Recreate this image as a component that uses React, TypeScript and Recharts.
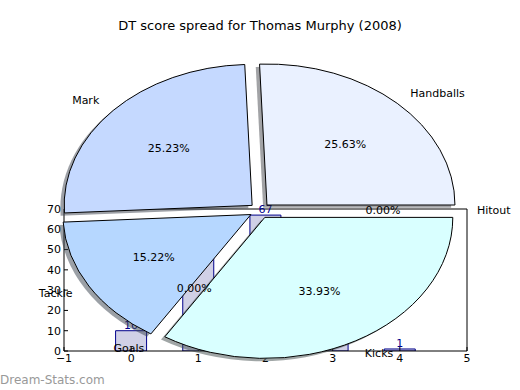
import React from 'react';
import { ComposedChart, Bar, XAxis, YAxis, LabelList, PieChart, Pie, Cell } from 'recharts';

const TITLE = 'DT score spread for Thomas Murphy (2008)';
const WATERMARK = 'Dream-Stats.com';

const barPositions = [0, 1, 2, 3, 4];
const barValues = [10, 55, 67, 30, 1];
const xTicks = [-1, 0, 1, 2, 3, 4, 5];
const yTicks = [0, 10, 20, 30, 40, 50, 60, 70];

const sliceNames = ['Handballs', 'Mark', 'Tackle', 'Goals', 'Kicks', 'Hitout'];
const sliceValues = [25.63, 25.23, 15.22, 0, 33.93, 0];
const sliceColors = ['#eaf1ff', '#c5d9ff', '#b6d7ff', '#c8d4ff', '#d9ffff', '#e4e4ff'];

const W = 520;
const H = 390;
const FONT = 'DejaVu Sans, sans-serif';
const PIE_CX = 259.8;
const PIE_CY = 210.6;
const PIE_RX = 188;
const PIE_RY = 141;
const KY = PIE_RY / PIE_RX;
const EXPLODE = 0.055;
const SHADOW_DX = -3.8;
const SHADOW_DY = 2.8;

const barData = barPositions.map((x, i) => ({ x, v: barValues[i] }));
const pieData = sliceNames.map((name, i) => ({ name, value: sliceValues[i] }));

const total = sliceValues.reduce((a, b) => a + b, 0);
const midAngles: number[] = [];
{
  let cum = 0;
  sliceValues.forEach((v) => {
    const s = (cum / total) * 360;
    const e = ((cum + v) / total) * 360;
    midAngles.push((s + e) / 2);
    cum += v;
  });
}
const offX = midAngles.map((a) => EXPLODE * PIE_RX * Math.cos((a * Math.PI) / 180));
const offY = midAngles.map((a) => -EXPLODE * PIE_RY * Math.sin((a * Math.PI) / 180));

const darken = (hex: string) => {
  const n = parseInt(hex.slice(1), 16);
  const r = Math.round(((n >> 16) & 255) * 0.3);
  const g = Math.round(((n >> 8) & 255) * 0.3);
  const b = Math.round((n & 255) * 0.3);
  return `rgb(${r},${g},${b})`;
};

const tf = (dx: number, dy: number) =>
  `transform: translate(${PIE_CX + dx}px, ${PIE_CY + dy}px) scale(1, ${KY}) translate(${-PIE_CX}px, ${-PIE_CY}px); transform-origin: 0 0; transform-box: view-box;`;

const css =
  sliceNames
    .map(
      (_, i) =>
        `.pw-${i} { ${tf(offX[i], offY[i])} } .ps-${i} { ${tf(offX[i] + SHADOW_DX, offY[i] + SHADOW_DY)} }`
    )
    .join('\n') + '\n.recharts-sector { vector-effect: non-scaling-stroke; }';

const fmtTick = (v: number) => String(v).replace('-', '\u2212');

const renderLabel = (props: any) => {
  const { midAngle, index, percent } = props;
  const rad = (midAngle * Math.PI) / 180;
  const c = Math.cos(rad);
  const s = Math.sin(rad);
  const ax = PIE_CX + offX[index];
  const ay = PIE_CY + offY[index];
  const lx = ax + 1.1 * PIE_RX * c;
  const ly = ay - 1.1 * PIE_RY * s;
  const px = ax + 0.6 * PIE_RX * c;
  const py = ay - 0.6 * PIE_RY * s;
  return (
    <g key={`lbl-${index}`}>
      <text x={lx} y={ly} textAnchor={c >= 0 ? 'start' : 'end'} dominantBaseline="central" fontSize={11} fill="#000" fontFamily={FONT}>
        {sliceNames[index]}
      </text>
      <text x={px} y={py} textAnchor="middle" dominantBaseline="central" fontSize={11} fill="#000" fontFamily={FONT}>
        {(percent * 100).toFixed(2) + '%'}
      </text>
    </g>
  );
};

export default function App() {
  return (
    <div style={{ position: 'absolute', left: 0, top: 0, width: W, height: H, background: '#fff', fontFamily: FONT, overflow: 'hidden' }}>
      <style>{css}</style>
      <div style={{ position: 'absolute', left: 0, top: 0 }}>
        <ComposedChart width={W} height={H} data={barData} margin={{ top: 199, right: 43, bottom: 19, left: 34 }}>
          <XAxis
            xAxisId="b"
            type="number"
            dataKey="x"
            domain={[-1, 5]}
            ticks={xTicks}
            interval={0}
            allowDataOverflow
            tickSize={-4}
            tickMargin={7}
            height={20}
            stroke="#000"
            tick={{ fill: '#000', fontSize: 11, fontFamily: FONT }}
            tickFormatter={fmtTick}
          />
          <XAxis
            xAxisId="t"
            orientation="top"
            type="number"
            dataKey="x"
            domain={[-1, 5]}
            ticks={xTicks}
            interval={0}
            allowDataOverflow
            tickSize={-4}
            height={10}
            stroke="#000"
            tick={false}
          />
          <YAxis
            yAxisId="l"
            domain={[0, 70]}
            ticks={yTicks}
            interval={0}
            allowDataOverflow
            tickSize={-4}
            tickMargin={7}
            width={30}
            stroke="#000"
            tick={{ fill: '#000', fontSize: 11, fontFamily: FONT }}
          />
          <YAxis
            yAxisId="r"
            orientation="right"
            domain={[0, 70]}
            ticks={yTicks}
            interval={0}
            allowDataOverflow
            tickSize={-4}
            width={10}
            stroke="#000"
            tick={false}
          />
          <Bar xAxisId="b" yAxisId="l" dataKey="v" fill="#d0d0e6" stroke="#00008b" strokeWidth={1} barSize={31} isAnimationActive={false}>
            <LabelList dataKey="v" position="top" offset={2} fill="#00008b" fontSize={11} fontFamily={FONT} />
          </Bar>
        </ComposedChart>
      </div>
      <div style={{ position: 'absolute', left: 0, top: 0, pointerEvents: 'none' }}>
        <PieChart width={W} height={H} margin={{ top: 0, right: 0, bottom: 0, left: 0 }}>
          <Pie
            data={pieData}
            dataKey="value"
            nameKey="name"
            cx={PIE_CX}
            cy={PIE_CY}
            outerRadius={PIE_RX}
            startAngle={0}
            endAngle={360}
            stroke="none"
            label={false}
            labelLine={false}
            isAnimationActive={false}
          >
            {pieData.map((_, i) => (
              <Cell key={`s-${i}`} className={`ps-${i}`} fill={darken(sliceColors[i])} fillOpacity={0.5} stroke="none" />
            ))}
          </Pie>
          <Pie
            data={pieData}
            dataKey="value"
            nameKey="name"
            cx={PIE_CX}
            cy={PIE_CY}
            outerRadius={PIE_RX}
            startAngle={0}
            endAngle={360}
            stroke="#000"
            strokeWidth={1}
            label={renderLabel}
            labelLine={false}
            isAnimationActive={false}
          >
            {pieData.map((_, i) => (
              <Cell key={`w-${i}`} className={`pw-${i}`} fill={sliceColors[i]} stroke="#000" />
            ))}
          </Pie>
        </PieChart>
      </div>
      <div style={{ position: 'absolute', left: 0, top: 17, width: W, textAlign: 'center', fontSize: 13, lineHeight: '18px', color: '#000' }}>
        {TITLE}
      </div>
      <div style={{ position: 'absolute', left: 0, top: 372, fontSize: 12, lineHeight: '16px', color: '#999' }}>
        {WATERMARK}
      </div>
    </div>
  );
}
